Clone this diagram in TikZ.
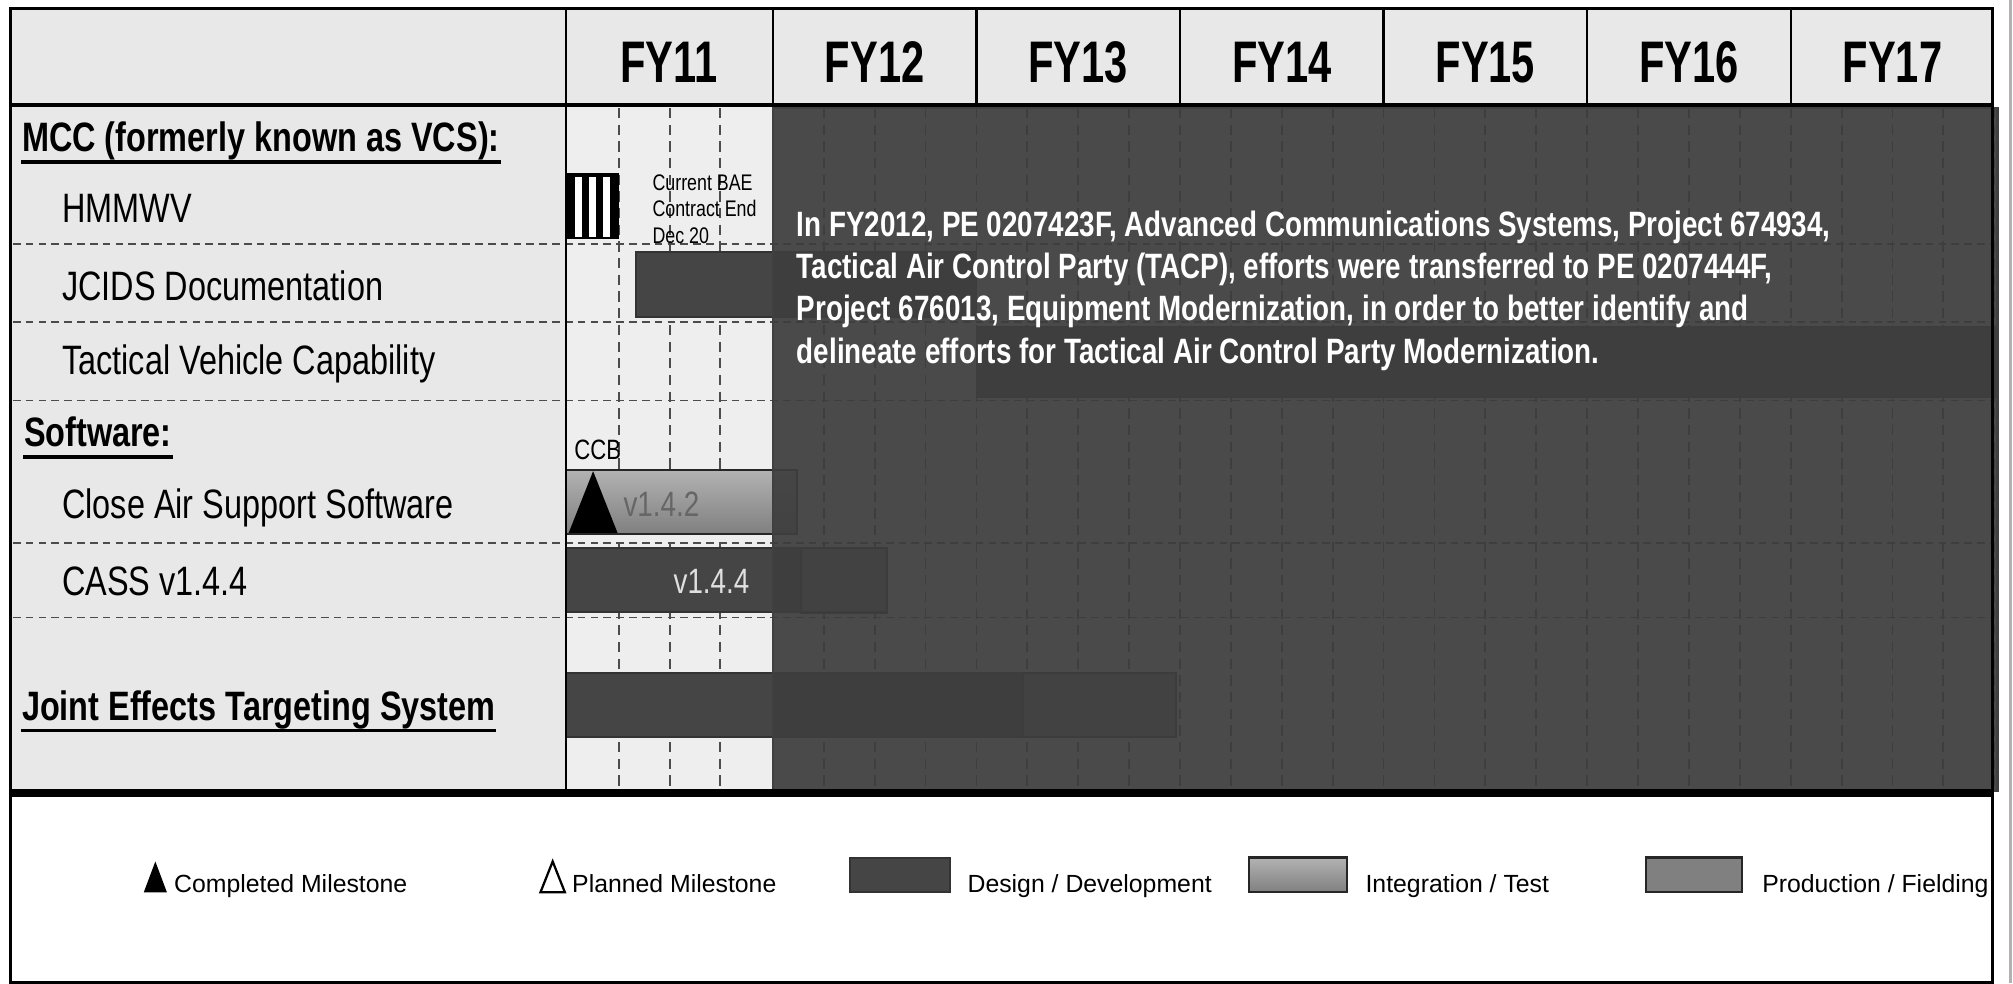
\documentclass[tikz,border=0pt]{standalone}
\usepackage{fontspec}
\setmainfont{Liberation Sans}
\newfontfamily\narrowfont{Liberation Sans}[FakeStretch=0.79]
\newfontfamily\yearfont{Liberation Sans}[FakeStretch=0.71]

\definecolor{panel}{gray}{0.91}
\definecolor{panelfy}{gray}{0.935}
\definecolor{gridln}{gray}{0.3}
\definecolor{devbar}{gray}{0.27}
\definecolor{shadeov}{gray}{0.243}
\definecolor{prodbar}{gray}{0.5}

\tikzset{
  lbl/.style={anchor=base west,inner sep=0pt,font=\narrowfont\fontsize{9.1}{11}\selectfont},
  grp/.style={lbl,font=\narrowfont\bfseries\fontsize{9.1}{11}\selectfont},
  yr/.style={anchor=base,inner sep=0pt,font=\yearfont\bfseries\fontsize{13}{15}\selectfont},
  ovtxt/.style={anchor=base west,inner sep=0pt,text=white,font=\narrowfont\bfseries\fontsize{7.8}{9.4}\selectfont},
  note/.style={anchor=base west,inner sep=0pt,font=\narrowfont\fontsize{5}{6}\selectfont},
  bartxt/.style={anchor=base west,inner sep=0pt,font=\narrowfont\fontsize{7.8}{9}\selectfont},
  lgd/.style={anchor=base west,inner sep=0pt,font=\fontsize{5.5}{6.6}\selectfont},
  gridh/.style={gridln,line width=0.4pt,dash pattern=on 0.6mm off 0.4mm},
  gridv/.style={gridln,line width=0.4pt,dash pattern=on 0.8mm off 0.5mm},
  design/.style={fill=devbar,draw=black!80,line width=0.4pt},
  integ/.style={top color=black!30,bottom color=black!50,draw=black!85,line width=0.5pt},
  prodbox/.style={fill=prodbar,draw=black!85,line width=0.5pt},
  uline/.style={line width=0.85pt}
}

\begin{document}
\begin{tikzpicture}[x=0.1mm,y=-0.1mm]
\useasboundingbox (0,0) rectangle (1568,766);
\fill[white] (0,0) rectangle (1568,766);
% panels
\fill[panel] (8.4,6.5) rectangle (1552,617);
\fill[panelfy] (441,82) rectangle (602,617);
\fill[white] (8.4,617) rectangle (1552,765);
% grid
\foreach \ry in {190,251,312,423,481} \draw[gridh] (10,\ry) -- (1552,\ry);
\foreach \qx in {482,522,561,602} \draw[gridv] (\qx,84) -- (\qx,616);
\foreach \yr in {0,...,5} \foreach \q in {1,2,3,4} \draw[gridv] ({602+158.57*\yr+39.64*\q},84) -- ++(0,532);
% bars
\fill (441,135) rectangle (482,186.4);
\foreach \sx in {450.5,461.4,472.5} \fill[white] (\sx-2.6,137.6) rectangle (\sx+2.6,184.8);
\draw[design] (495.6,196) rectangle (760.6,247);
\draw[design] (760.6,255) rectangle (1556,309);
\draw[integ] (441,366) rectangle (621,416);
\fill (443,415) -- (462,367) -- (481,415) -- cycle;
\draw[design] (441,427) rectangle (624,477);
\draw[prodbox] (624,427) rectangle (691,477);
\draw[design] (441,524) rectangle (797,574);
\draw[prodbox] (797,524) rectangle (916,574);
\node[bartxt,text=black!60] (v142) at (485,402.5) {v1.4.2};
\node[bartxt,text=black!12] (v144) at (524,462) {v1.4.4};
\node[note,font=\narrowfont\fontsize{6.2}{7}\selectfont] (ccb) at (446.7,358) {CCB};
\node[note] (bae1) at (507.6,148) {Current BAE};
\node[note] (bae2) at (507.6,169) {Contract End};
\node[note] (bae3) at (507.6,190) {Dec 20};
% transfer overlay
\draw[fill=shadeov,fill opacity=0.93,draw=black!75,line width=0.5pt] (602,84) rectangle (1556,616);
\node[ovtxt] (ov1) at (620,184) {In FY2012, PE 0207423F, Advanced Communications Systems, Project 674934,};
\node[ovtxt] (ov2) at (620,217) {Tactical Air Control Party (TACP), efforts were transferred to PE 0207444F,};
\node[ovtxt] (ov3) at (620,250) {Project 676013, Equipment Modernization, in order to better identify and};
\node[ovtxt] (ov4) at (620,283) {delineate efforts for Tactical Air Control Party Modernization.};
% frame
\draw[line width=0.7pt] (8.4,6.5) rectangle (1552,765);
\draw[line width=0.8pt] (8.4,82) -- (1552,82);
\draw[line width=0.5pt] (441,6.5) -- (441,617);
\foreach \hx in {602,760.6,919.1,1077.7,1236.3,1394.8} \draw[line width=0.5pt] (\hx,6.5) -- (\hx,82);
\draw[line width=1.7pt] (8.4,617.5) -- (1552,617.5);
\draw[gray!60,line width=0.6pt] (1566,0) -- (1566,766);
% years
\node[yr] (fy11) at (521,64.4) {FY11};
\foreach \yn [count=\k from 0] in {12,...,17} \node[yr] (fy\yn) at ({681.3+158.57*\k},64.4) {FY\yn};
% row labels
\node[grp] (mcc) at (16.5,118) {MCC (formerly known as VCS):};
\node[lbl] (hmmwv) at (47.8,173.5) {HMMWV};
\node[lbl] (jcids) at (47.8,233.7) {JCIDS Documentation};
\node[lbl] (tvc) at (47.8,292) {Tactical Vehicle Capability};
\node[grp] (sw) at (18,348) {Software:};
\node[lbl] (cas) at (47.8,403.5) {Close Air Support Software};
\node[lbl] (cass) at (47.8,463.5) {CASS v1.4.4};
\node[grp] (jets) at (16.5,561) {Joint Effects Targeting System};
\foreach \g in {mcc,sw,jets} \draw[uline] ([yshift=-0.8mm]\g.base west) -- ([yshift=-0.8mm]\g.base east);
% legend
\fill (112,695) -- (121,671) -- (130,695) -- cycle;
\node[lgd] (lgcomp) at (135,695) {Completed Milestone};
\draw[fill=white,line width=0.5pt] (421,695) -- (430.5,671) -- (440,695) -- cycle;
\node[lgd] (lgplan) at (445,695) {Planned Milestone};
\draw[design] (662,668) rectangle (740,695);
\node[lgd] (lgdes) at (753,695) {Design / Development};
\draw[integ] (973,668) rectangle (1049,695);
\node[lgd] (lgint) at (1063,695) {Integration / Test};
\draw[prodbox] (1282,668) rectangle (1357,695);
\node[lgd] (lgprod) at (1372,695) {Production / Fielding};
\end{tikzpicture}
\end{document}
